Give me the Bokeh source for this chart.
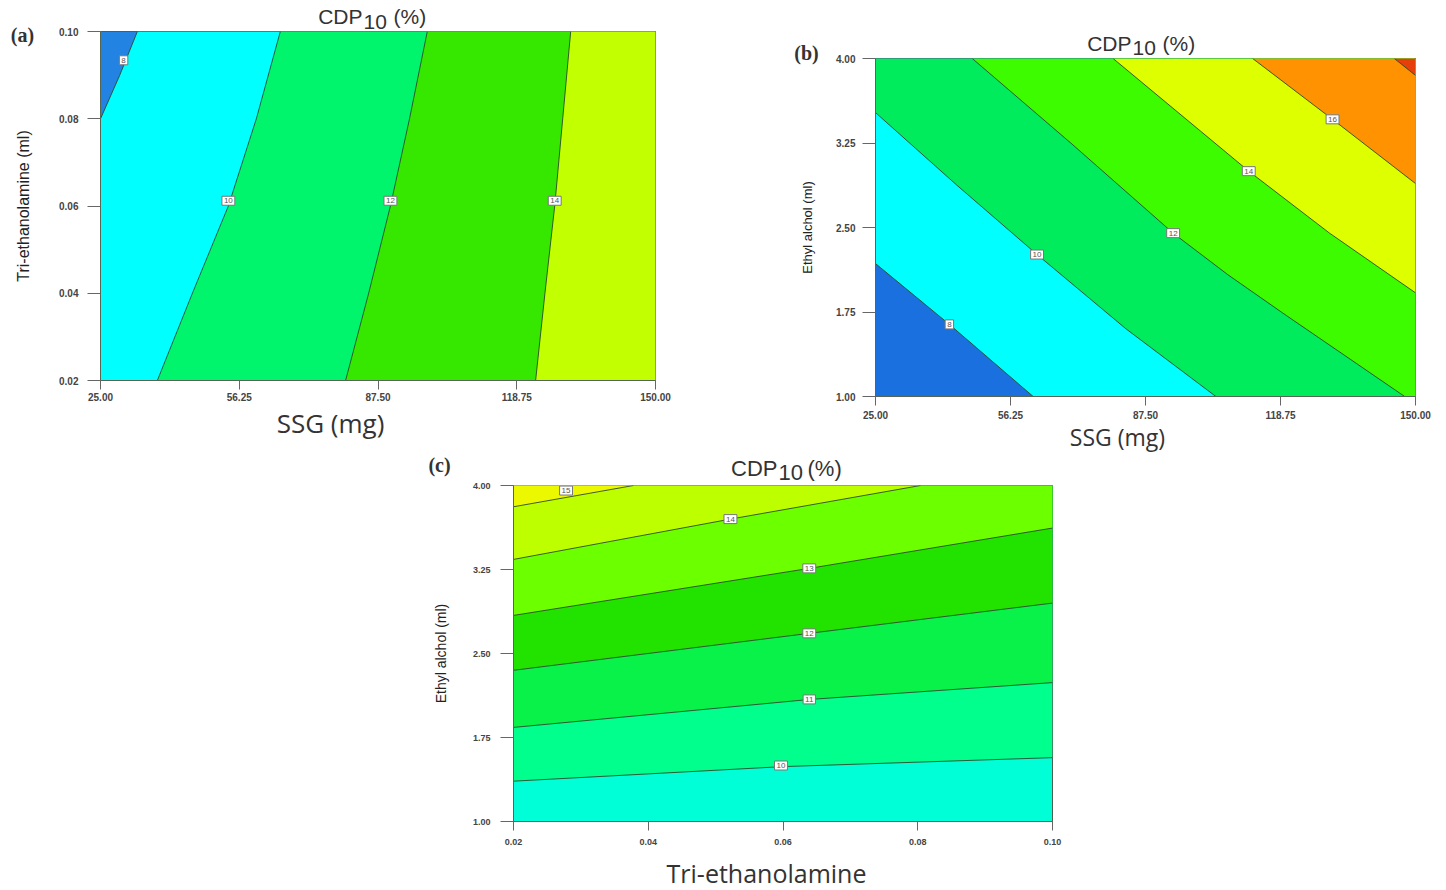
from bokeh.plotting import figure
from bokeh.models import Range1d, FixedTicker, Label, Spacer
from bokeh.layouts import row, column
from bokeh.embed import file_html
from bokeh.resources import INLINE

# ---------------- Panel (a): SSG (mg) vs Tri-ethanolamine (ml) ----------------
a_x_ticks = [25.0, 56.25, 87.5, 118.75, 150.0]
a_x_labels = ["25.00", "56.25", "87.50", "118.75", "150.00"]
a_y_ticks = [0.02, 0.04, 0.06, 0.08, 0.10]
a_y_labels = ["0.02", "0.04", "0.06", "0.08", "0.10"]
a_levels = [8, 10, 12, 14]
a_colors = ["#2383E2", "#00FFFF", "#00F56C", "#36E800", "#C2FF00"]
# contour lines (ordered so the higher-value side is on the right)
a_l8_x = [25.0, 29.3, 33.3]
a_l8_y = [0.080, 0.0899, 0.10]
a_l10_x = [37.8, 45.7, 53.8, 60.1, 65.5]
a_l10_y = [0.02, 0.04, 0.06, 0.08, 0.10]
a_l12_x = [80.2, 85.4, 90.3, 94.6, 98.6]
a_l12_y = [0.02, 0.04, 0.06, 0.08, 0.10]
a_l14_x = [123.0, 125.1, 127.3, 129.1, 130.9]
a_l14_y = [0.02, 0.04, 0.06, 0.08, 0.10]
a_lab_x = [30.2, 53.8, 90.3, 127.3]
a_lab_y = [0.0934, 0.0612, 0.0612, 0.0612]
a_lab_txt = ["8", "10", "12", "14"]

# ---------------- Panel (b): SSG (mg) vs Ethyl alchol (ml) ----------------
b_x_ticks = [25.0, 56.25, 87.5, 118.75, 150.0]
b_x_labels = ["25.00", "56.25", "87.50", "118.75", "150.00"]
b_y_ticks = [1.0, 1.75, 2.5, 3.25, 4.0]
b_y_labels = ["1.00", "1.75", "2.50", "3.25", "4.00"]
b_levels = [8, 10, 12, 14, 16, 18]
b_colors = ["#1B70E0", "#00FFFF", "#00EC5C", "#3EFC00", "#DEFF00", "#FF9200", "#E5400C"]
b_l8_x = [61.5, 42.1, 25.0]
b_l8_y = [1.00, 1.64, 2.18]
b_l10_x = [103.8, 83.0, 62.4, 43.7, 25.0]
b_l10_y = [1.00, 1.60, 2.26, 2.88, 3.52]
b_l12_x = [147.5, 119.3, 106.6, 93.9, 70.5, 47.4]
b_l12_y = [1.00, 1.74, 2.08, 2.45, 3.24, 4.00]
b_l14_x = [150.0, 130.1, 111.4, 80.0]
b_l14_y = [1.92, 2.45, 3.00, 4.00]
b_l16_x = [150.0, 130.8, 112.3]
b_l16_y = [2.89, 3.46, 4.00]
b_l18_x = [150.0, 145.1]
b_l18_y = [3.85, 4.00]
b_lab_x = [42.1, 62.4, 93.9, 111.4, 130.8]
b_lab_y = [1.64, 2.26, 2.45, 3.00, 3.46]
b_lab_txt = ["8", "10", "12", "14", "16"]

# ---------------- Panel (c): Tri-ethanolamine vs Ethyl alchol (ml) ----------------
c_x_ticks = [0.02, 0.04, 0.06, 0.08, 0.10]
c_x_labels = ["0.02", "0.04", "0.06", "0.08", "0.10"]
c_y_ticks = [1.0, 1.75, 2.5, 3.25, 4.0]
c_y_labels = ["1.00", "1.75", "2.50", "3.25", "4.00"]
c_levels = [10, 11, 12, 13, 14, 15]
c_colors = ["#00FFD6", "#00FF8C", "#08F24A", "#22E200", "#6CFF00", "#BEFF00", "#ECF800"]
c_l10_x = [0.10, 0.06, 0.02]
c_l10_y = [1.57, 1.49, 1.36]
c_l11_x = [0.10, 0.064, 0.02]
c_l11_y = [2.24, 2.09, 1.84]
c_l12_x = [0.10, 0.0639, 0.02]
c_l12_y = [2.95, 2.68, 2.35]
c_l13_x = [0.10, 0.0639, 0.02]
c_l13_y = [3.62, 3.26, 2.84]
c_l14_x = [0.0804, 0.0522, 0.02]
c_l14_y = [4.00, 3.70, 3.34]
c_l15_x = [0.0378, 0.02]
c_l15_y = [4.00, 3.81]
c_lab_x = [0.0278, 0.0522, 0.0639, 0.0639, 0.0639, 0.0597]
c_lab_y = [3.955, 3.70, 3.26, 2.68, 2.09, 1.50]
c_lab_txt = ["15", "14", "13", "12", "11", "10"]

TITLE = "CDP"
SUB = "10"
UNIT = "(%)"


def perim_t(x, y, xr, yr):
    x0, x1 = xr
    y0, y1 = yr
    ex = 1e-6 * (x1 - x0)
    ey = 1e-6 * (y1 - y0)
    if abs(x - x0) < ex:
        return (y - y0) / (y1 - y0)
    if abs(y - y1) < ey:
        return 1 + (x - x0) / (x1 - x0)
    if abs(x - x1) < ex:
        return 2 + (y1 - y) / (y1 - y0)
    return 3 + (x1 - x) / (x1 - x0)


def high_side(xs, ys, xr, yr):
    x0, x1 = xr
    y0, y1 = yr
    corners = [(x0, y1), (x1, y1), (x1, y0), (x0, y0)]
    t_start = perim_t(xs[0], ys[0], xr, yr)
    t_end = perim_t(xs[-1], ys[-1], xr, yr)
    if t_start <= t_end:
        t_start += 4
    px, py = list(xs), list(ys)
    for k in range(1, 9):
        if t_end < k < t_start:
            cx, cy = corners[(k - 1) % 4]
            px.append(cx)
            py.append(cy)
    return px, py


def make_panel(w, h, bl, br, bt, bb, xt, xl, yt, yl, ylabel, ylabel_size, ylabel_standoff,
               ytick_std, xtick_std, tick_size, colors, lines, labs):
    xr = (xt[0], xt[-1])
    yr = (yt[0], yt[-1])
    p = figure(width=w, height=h, output_backend="svg", toolbar_location=None,
               x_range=Range1d(*xr), y_range=Range1d(*yr))
    p.frame_align = False
    p.min_border_left = bl
    p.min_border_right = br
    p.min_border_top = bt
    p.min_border_bottom = bb
    p.background_fill_color = colors[0]
    p.border_fill_color = "white"
    p.outline_line_color = "#4f5f4f"
    p.outline_line_width = 1
    p.grid.visible = False
    for i, (lx, ly) in enumerate(lines):
        px, py = high_side(lx, ly, xr, yr)
        p.patch(px, py, fill_color=colors[i + 1], line_alpha=0)
    for lx, ly in lines:
        p.line(lx, ly, line_color="#2c4a2c", line_width=1, line_alpha=0.9)
    lx, ly, lt = labs
    for x, y, t in zip(lx, ly, lt):
        p.add_layout(Label(x=x, y=y, text=t, text_font="Liberation Sans", text_font_size="8px",
                           text_color="#555555", text_align="center", text_baseline="middle",
                           background_fill_color="white", border_line_color="#777777",
                           border_line_width=1, padding=2))
    ax = p.xaxis[0]
    ax.ticker = FixedTicker(ticks=xt)
    ax.major_label_overrides = {t: s for t, s in zip(xt, xl)}
    ax.major_tick_out = 9
    ax.major_tick_in = 0
    ax.minor_tick_out = 0
    ax.minor_tick_in = 0
    ax.major_label_standoff = xtick_std
    ay = p.yaxis[0]
    ay.ticker = FixedTicker(ticks=yt)
    ay.major_label_overrides = {t: s for t, s in zip(yt, yl)}
    ay.major_tick_out = 13
    ay.major_tick_in = 0
    ay.minor_tick_out = 0
    ay.minor_tick_in = 0
    ay.major_label_standoff = ytick_std
    ay.axis_label = ylabel
    ay.axis_label_text_font = "Liberation Sans"
    ay.axis_label_text_font_style = "normal"
    ay.axis_label_text_font_size = f"{ylabel_size}px"
    ay.axis_label_text_color = "#222222"
    ay.axis_label_standoff = ylabel_standoff
    for a in (ax, ay):
        a.axis_line_color = "#556655"
        a.major_tick_line_color = "#666666"
        a.major_label_text_font = "Liberation Sans"
        a.major_label_text_font_style = "bold"
        a.major_label_text_font_size = f"{tick_size}px"
        a.major_label_text_color = "#444444"
    return p, xr, yr


class Texter:
    """Texts at pixel offsets from the frame's top-left corner (dx right, dy down).
    They are hosted in a side panel so that they are not clipped to the frame."""

    def __init__(self, p, xr, yr):
        self.p = p
        self.x0 = xr[0]
        self.y1 = yr[1]

    def __call__(self, side, dx, dy, text, size, font="Liberation Sans", style="normal",
                 align="center", color="#333333"):
        self.p.add_layout(Label(x=self.x0, y=self.y1, x_offset=dx, y_offset=-dy,
                                text=text, text_font=font, text_font_size=f"{size}px",
                                text_font_style=style, text_align=align,
                                text_baseline="middle", text_color=color), side)


# ---- (a): frame 555 x 349, page frame at (100, 31)
pa, axr, ayr = make_panel(
    755, 454, 100, 100, 31, 74, a_x_ticks, a_x_labels, a_y_ticks, a_y_labels,
    "Tri-ethanolamine (ml)", 16, 24, 9, 3, 10, a_colors,
    [(a_l8_x, a_l8_y), (a_l10_x, a_l10_y), (a_l12_x, a_l12_y), (a_l14_x, a_l14_y)],
    (a_lab_x, a_lab_y, a_lab_txt))
ta = Texter(pa, axr, ayr)
ta("above", 262, -15, TITLE, 21, align="right")
ta("right", 263, -9.5, SUB, 21, align="left")
ta("right", 293, -15, UNIT, 21, align="left")
ta("right", -78, 3, "(a)", 20, font="Liberation Serif", style="bold")
ta("below", 230, 349 + 42, "SSG (mg)", 26, font="Open Sans")

# ---- (b): frame 540 x 338, page frame at (875, 58)
pb, bxr, byr = make_panel(
    691, 454, 120, 31, 58, 58, b_x_ticks, b_x_labels, b_y_ticks, b_y_labels,
    "Ethyl alchol (ml)", 13, 18, 7, 5, 10, b_colors,
    [(b_l8_x, b_l8_y), (b_l10_x, b_l10_y), (b_l12_x, b_l12_y), (b_l14_x, b_l14_y),
     (b_l16_x, b_l16_y), (b_l18_x, b_l18_y)],
    (b_lab_x, b_lab_y, b_lab_txt))
tb = Texter(pb, bxr, byr)
tb("above", 256, -15.5, TITLE, 21, align="right")
tb("right", 257, -11, SUB, 21, align="left")
tb("above", 287, -15.5, UNIT, 21, align="left")
tb("left", -69, -6, "(b)", 20, font="Liberation Serif", style="bold")
tb("below", 242, 338 + 40, "SSG (mg)", 23, font="Open Sans")

# ---- (c): frame 539 x 336, page frame at (513, 485)
pc, cxr, cyr = make_panel(
    749, 436, 130, 80, 31, 69, c_x_ticks, c_x_labels, c_y_ticks, c_y_labels,
    "Ethyl alchol (ml)", 14, 21, 10, 8, 9, c_colors,
    [(c_l10_x, c_l10_y), (c_l11_x, c_l11_y), (c_l12_x, c_l12_y), (c_l13_x, c_l13_y),
     (c_l14_x, c_l14_y), (c_l15_x, c_l15_y)],
    (c_lab_x, c_lab_y, c_lab_txt))
tc = Texter(pc, cxr, cyr)
tc("above", 264, -17, TITLE, 22, align="right")
tc("right", 265, -13, SUB, 22, align="left")
tc("right", 294, -17, UNIT, 22, align="left")
tc("left", -74, -21, "(c)", 20, font="Liberation Serif", style="bold")
tc("below", 253, 336 + 51, "Tri-ethanolamine", 25, font="Open Sans")

layout = column(row(pa, pb), row(Spacer(width=383, height=436), pc))
open("out.html", "w").write(file_html(layout, INLINE))
